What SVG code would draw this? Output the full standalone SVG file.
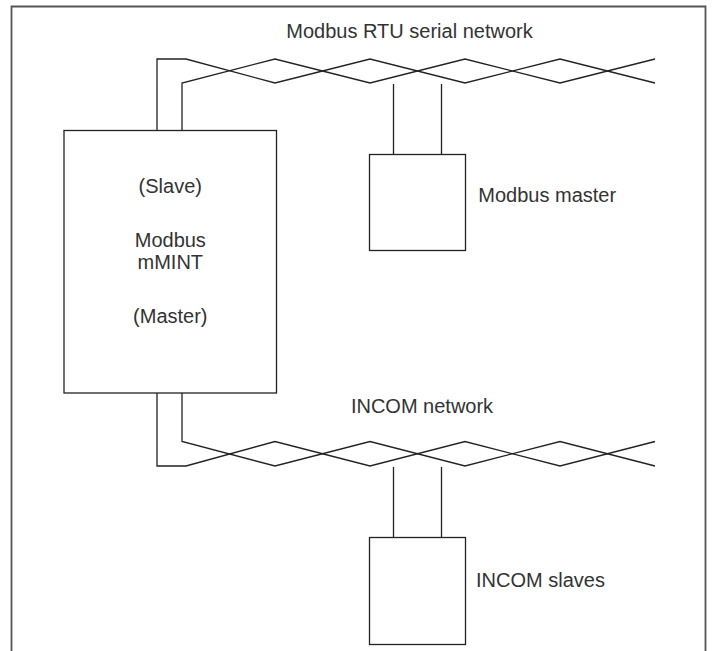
<svg xmlns="http://www.w3.org/2000/svg" width="713" height="651" viewBox="0 0 713 651">
<style>
.frame{fill:none;stroke:#555;stroke-width:1.8}
.box{fill:#fff;stroke:#222;stroke-width:1.3}
.wire{fill:none;stroke:#222;stroke-width:1.3;stroke-linejoin:miter}
.lbl{font-family:"Liberation Sans",Arial,sans-serif;font-size:20px;fill:#333}
.mid{text-anchor:middle}
</style>
<rect x="0" y="0" width="713" height="651" fill="#fff"/>
<path class="frame" d="M11.5,651 V6.5 H705.5 V651"/>
<text class="lbl mid" x="409.5" y="38.3" id="title">Modbus RTU serial network</text>
<text class="lbl mid" x="422" y="413.3" id="incom-net">INCOM network</text>
<g id="connectors">
<path class="wire" d="M157,130.5 V59 H186 L275,83 L370,59 L465,83 L560,59 L655,83"/>
<path class="wire" d="M182,130.5 V83 L275,59 L370,83 L465,59 L560,83 L655,59"/>
<path class="wire" d="M393.5,84 V154.5 M441.5,84 V154.5"/>
<path class="wire" d="M157,393 V466 H186 L275,441.5 L370,466 L465,441.5 L560,466 L655,441.5"/>
<path class="wire" d="M182,393 V441.5 L275,466 L370,441.5 L465,466 L560,441.5 L655,466"/>
<path class="wire" d="M393.5,467 V537.5 M441.5,467 V537.5"/>
</g>
<g id="mmint">
<rect class="box" x="64" y="130.5" width="212.5" height="262.5"/>
<text class="lbl mid" x="170.3" y="192.7">(Slave)</text>
<text class="lbl mid" x="170.3" y="246.7">Modbus</text>
<text class="lbl mid" x="170.3" y="269.3">mMINT</text>
<text class="lbl mid" x="170.3" y="322.7">(Master)</text>
</g>
<g id="modbus-master">
<rect class="box" x="369.5" y="154.5" width="96" height="96"/>
<text class="lbl" x="478.3" y="202.3">Modbus master</text>
</g>
<g id="incom-slaves">
<rect class="box" x="369.5" y="537.5" width="96" height="107"/>
<text class="lbl" x="476" y="587.3">INCOM slaves</text>
</g>
</svg>
